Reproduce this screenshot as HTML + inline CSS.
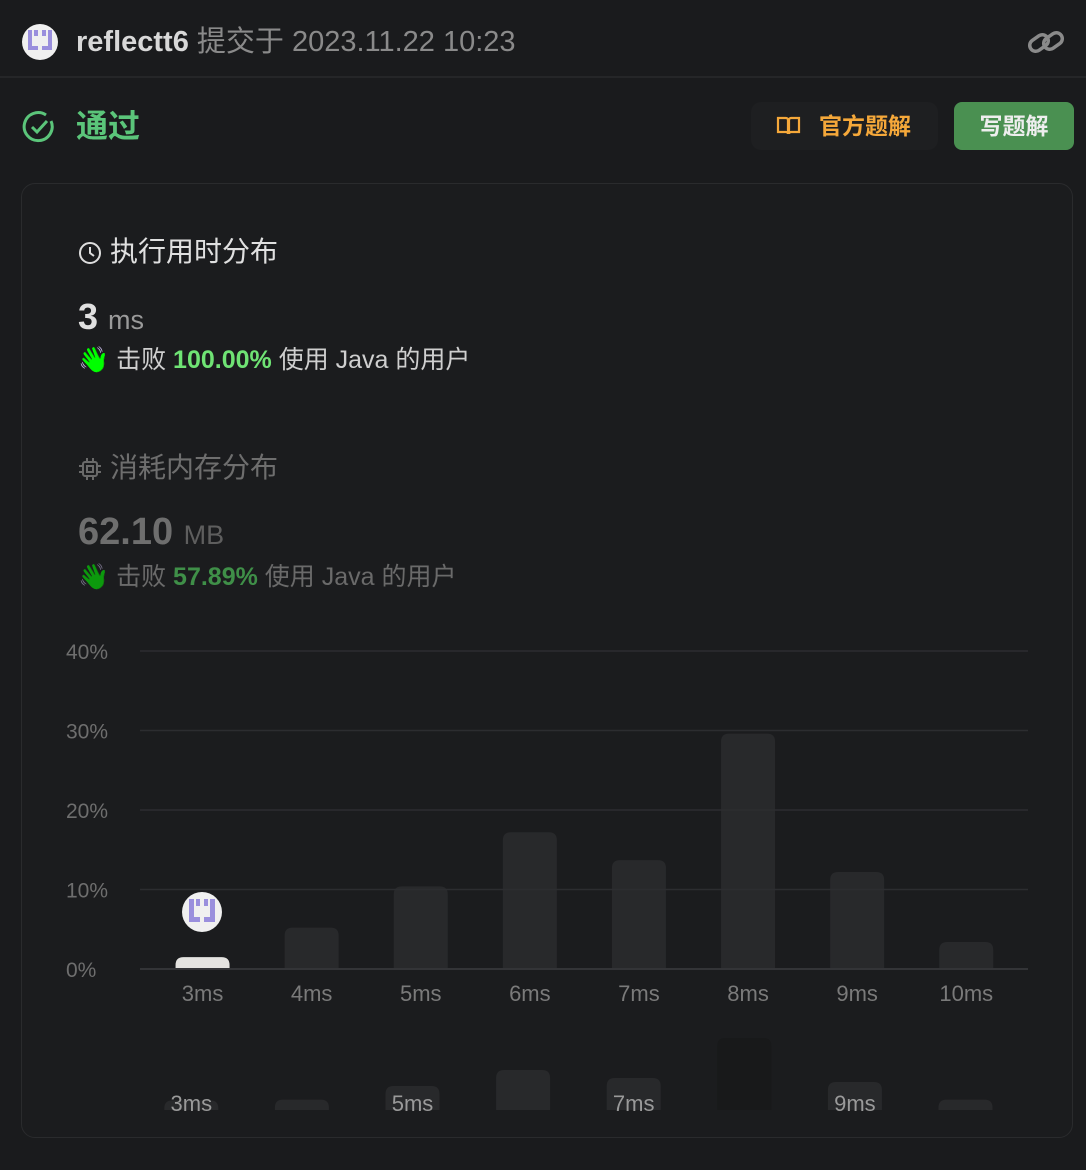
<!DOCTYPE html>
<html><head><meta charset="utf-8"><style>
*{margin:0;padding:0;box-sizing:border-box}
body{width:1086px;height:1170px;background:#1a1b1d;font-family:"Liberation Sans","Noto Sans CJK SC",sans-serif;position:relative;overflow:hidden;color:#eee}
.abs{position:absolute}
.av{width:36px;height:36px;border-radius:50%;background:#f0f0f0;overflow:hidden}
.av i{position:absolute;background:#9a8fdd}
.hand{display:inline-block;filter:hue-rotate(60deg) saturate(2.5)}
</style></head><body>
<div class="abs av" style="left:22px;top:24px">
<i style="left:6px;top:6px;width:4px;height:6px"></i><i style="left:6px;top:12px;width:4px;height:12px"></i><i style="left:6px;top:22px;width:10px;height:4px"></i><i style="left:12px;top:6px;width:4px;height:6px"></i>
<i style="left:20px;top:6px;width:4px;height:6px"></i><i style="left:26px;top:6px;width:4px;height:20px"></i><i style="left:20px;top:22px;width:10px;height:4px"></i></div>
<div class="abs" style="left:76px;top:24px;font-size:29px;color:#8a8a8a;white-space:nowrap;line-height:36px"><b style="color:#d8d8d8">reflectt6</b> 提交于 2023.11.22 10:23</div>
<svg class="abs" style="left:1026px;top:26px" width="40" height="32" viewBox="0 0 40 32"><g fill="none" stroke="#8a8a8a" stroke-width="3.5"><rect x="3" y="11" width="20" height="12" rx="6" transform="rotate(-35 13 17)"/><rect x="17" y="9" width="20" height="12" rx="6" transform="rotate(-35 27 15)"/></g></svg>
<div class="abs" style="left:0;top:76px;width:1086px;height:2px;background:#252628"></div>
<svg class="abs" style="left:22px;top:110px" width="34" height="34" viewBox="0 0 34 34"><path d="M29 11 A14 14 0 1 1 24 5" fill="none" stroke="#5bc57a" stroke-width="3"/><path d="M10 17 L15 22 L25 11" fill="none" stroke="#5bc57a" stroke-width="3"/></svg>
<div class="abs" style="left:76px;top:106px;font-size:32px;font-weight:bold;color:#5bc57a;line-height:40px">通过</div>
<div class="abs" style="left:751px;top:102px;width:187px;height:48px;background:#1e1f21;border-radius:10px;color:#f5a83a;font-size:23px;font-weight:bold;line-height:48px;padding-left:68px">官方题解
<svg class="abs" style="left:25px;top:14px" width="25" height="20" viewBox="0 0 25 20"><path d="M2 2h8a2 2 0 0 1 2 2v14a2 2 0 0 0-2-2H2zM23 2h-8a2 2 0 0 0-2 2v14a2 2 0 0 1 2-2h8z" fill="none" stroke="#f5a83a" stroke-width="2.2"/></svg></div>
<div class="abs" style="left:954px;top:102px;width:120px;height:48px;background:#4a9051;border-radius:8px;color:#eee;font-size:23px;font-weight:bold;line-height:48px;text-align:center">写题解</div>
<div class="abs" style="left:21px;top:183px;width:1052px;height:955px;border:1px solid #2a2b2d;border-radius:14px;background:#1b1c1e"></div>
<svg class="abs" style="left:78px;top:241px" width="24" height="24" viewBox="0 0 24 24"><circle cx="12" cy="12" r="10" fill="none" stroke="#ddd" stroke-width="2"/><path d="M12 6v6l4 3" fill="none" stroke="#ddd" stroke-width="2"/></svg>
<div class="abs" style="left:110px;top:234px;font-size:28px;color:#e0e0e0;line-height:36px">执行用时分布</div>
<div class="abs" style="left:78px;top:296px;font-size:36px;font-weight:bold;color:#e0e0e0;line-height:42px">3 <span style="font-size:27px;font-weight:normal;color:#9a9a9a">ms</span></div>
<div class="abs" style="left:78px;top:343px;font-size:25px;color:#cfcfcf;white-space:nowrap;line-height:34px"><span class="hand">👋</span> 击败 <b style="color:#6fe374">100.00%</b> 使用 Java 的用户</div>
<svg class="abs" style="left:78px;top:457px" width="24" height="24" viewBox="0 0 24 24"><rect x="5" y="5" width="14" height="14" rx="2" fill="none" stroke="#6a6a6a" stroke-width="2"/><rect x="9" y="9" width="6" height="6" fill="none" stroke="#6a6a6a" stroke-width="2"/><path d="M9 1v4M15 1v4M9 19v4M15 19v4M1 9h4M1 15h4M19 9h4M19 15h4" stroke="#6a6a6a" stroke-width="2"/></svg>
<div class="abs" style="left:110px;top:450px;font-size:28px;color:#6e6e6e;line-height:36px">消耗内存分布</div>
<div class="abs" style="left:78px;top:510px;font-size:38px;font-weight:bold;color:#6e6e6e;line-height:44px">62.10 <span style="font-size:27px;font-weight:normal;color:#5e5e5e">MB</span></div>
<div class="abs" style="left:78px;top:560px;font-size:25px;color:#6a6a6a;white-space:nowrap;line-height:34px"><span class="hand" style="opacity:.55">👋</span> 击败 <b style="color:#3f8f48">57.89%</b> 使用 Java 的用户</div>
<svg class="abs" id="chart" style="left:0;top:0" width="1086" height="1170"></svg>
<div class="abs av" style="left:182px;top:892px;width:40px;height:40px">
<i style="left:7px;top:7px;width:5px;height:22px"></i><i style="left:7px;top:25px;width:11px;height:5px"></i><i style="left:14px;top:7px;width:4px;height:7px"></i><i style="left:28px;top:7px;width:5px;height:22px"></i><i style="left:22px;top:25px;width:11px;height:5px"></i><i style="left:22px;top:7px;width:4px;height:7px"></i></div>
<script>
const categories=["3ms","4ms","5ms","6ms","7ms","8ms","9ms","10ms"];
const percents=[1.5,5.2,10.4,17.2,13.7,29.6,12.2,3.4];
const yTicks=[0,10,20,30,40];
const yTickLabels=["0%","10%","20%","30%","40%"];
const miniHeights=[1.2,1.3,3.0,5.0,4.0,9.0,3.5,1.3];
const miniLabels=["3ms","","5ms","","7ms","","9ms",""];
const NS="http://www.w3.org/2000/svg";
const svg=document.getElementById('chart');
const y0=969,pxPer=7.95,x0=148,step=109.1;
const yS=v=>y0-v*pxPer, xS=i=>x0+step*(i+0.5);
function mk(t,a){const e=document.createElementNS(NS,t);for(const k in a)e.setAttribute(k,a[k]);svg.appendChild(e);return e;}
percents.forEach((v,i)=>{const h=y0-yS(v);
const r=mk('path',{d:`M${xS(i)-27} ${y0} v${-(h-8)} q0 -8 8 -8 h38 q8 0 8 8 v${h-8}z`,fill:i===0?'#e4e3e0':'#28292b'});


const t=mk('text',{x:xS(i),y:1001,'text-anchor':'middle','font-size':22,fill:'#7a7a7a','font-family':'Liberation Sans'});t.textContent=categories[i];

});
yTicks.forEach((v,i)=>{const l=mk('line',{x1:140,x2:1028,y1:yS(v),y2:yS(v),stroke:i===0?'#333437':'#2c2d30','stroke-width':i===0?2:1.5});


const t=mk('text',{x:66,y:yS(v)+8,'font-size':21,fill:'#6e6e6e','font-family':'Liberation Sans'});t.textContent=yTickLabels[i];

});
const mb=1110,mx0=136,mstep=110.6;
miniHeights.forEach((v,i)=>{const h=v*8,cx=mx0+mstep*(i+0.5);
const r=mk('path',{d:`M${cx-27} ${mb} v${-(h-8)} q0 -8 8 -8 h38 q8 0 8 8 v${h-8}z`,fill:i===5?'#18191a':'#28292b'});


if(miniLabels[i]){const t=mk('text',{x:cx,y:1111,'text-anchor':'middle','font-size':22,fill:'#9a9a9a','font-family':'Liberation Sans'});t.textContent=miniLabels[i];

}});
</script>
</body></html>
